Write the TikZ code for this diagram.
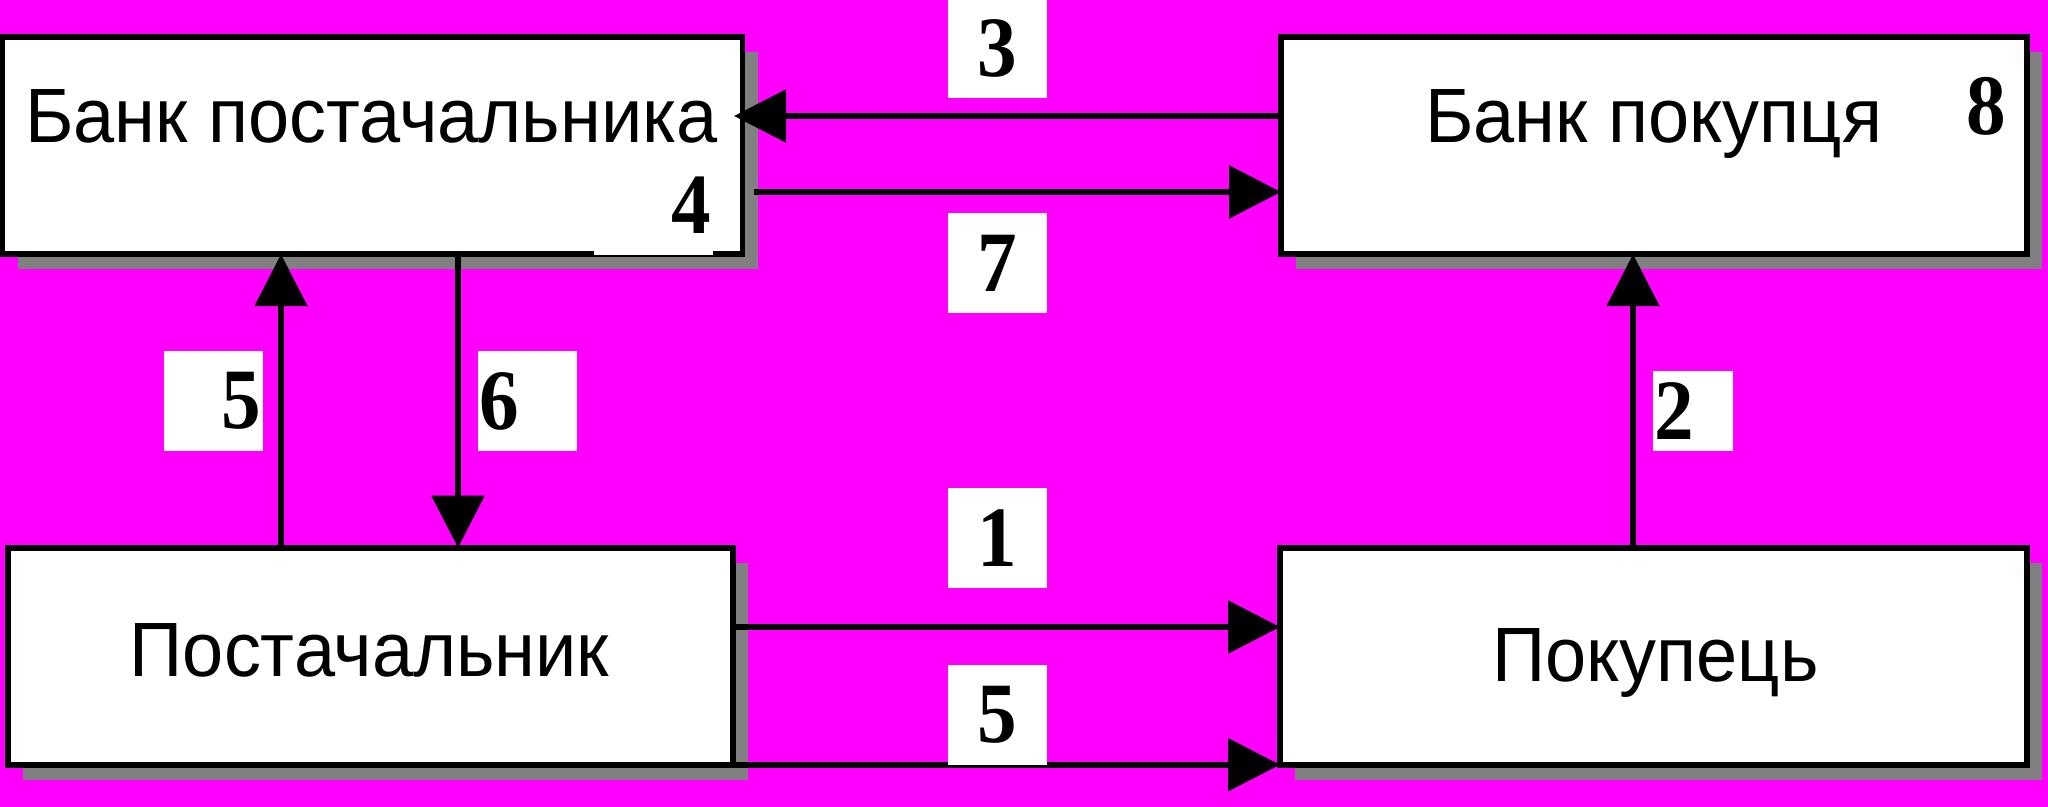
\documentclass[tikz,border=0pt]{standalone}
\usepackage{fontspec}
\usepackage{tikz}
\usetikzlibrary{arrows.meta,calc,shadows}
\newfontfamily\arialf[FakeStretch=0.96]{Liberation Sans}
\newfontfamily\timesf[FakeStretch=0.92]{Liberation Serif}
\definecolor{fon}{HTML}{FF00FF}
\definecolor{ten}{HTML}{808080}

\begin{document}
\begin{tikzpicture}[x=0.5pt,y=0.5pt,line width=2.8pt,>={Triangle[length=26pt,width=26pt]},
  blok/.style={draw=black,fill=white,rectangle,inner sep=0pt,outer sep=0pt,minimum height=108.5pt,
    general shadow={fill=ten,shadow xshift=7.5pt,shadow yshift=-7.5pt}},
  txt/.style={anchor=base,inner sep=0pt,font=\arialf\fontsize{38.5}{40}\selectfont},
  num/.style={fill=white,inner sep=0pt,minimum width=49.5pt,minimum height=50pt,
    font=\timesf\bfseries\fontsize{43}{44}\selectfont}]
\fill[fon] (0,0) rectangle (2048,807);
\useasboundingbox (0,0) rectangle (2048,807);
\node[blok,minimum width=370pt] (bankP) at (372.5,661.25) {};
\node[blok,minimum width=373pt] (bankB) at (1654,661.25) {};
\node[blok,minimum width=362.5pt] (post) at (370.5,150.75) {};
\node[blok,minimum width=373.5pt] (pok) at (1653.5,150.75) {};
\node[txt] (tP) at (371.5,664) {Банк\ постачальника};
\node[txt] (tB) at (1653.5,664) {Банк\ покупця};
\node[txt] (tPost) at (369.5,130) {Постачальник};
\node[txt] (tPok) at (1655.5,125) {Покупець};
\node[num,minimum width=59.5pt,text width=58pt,align=right] (n4) at (653.5,602) {4};
\node[num,minimum width=20pt,minimum height=30pt] (n8) at (1986,700.5) {8};
\coordinate (p5) at ($(post.north)+(-89.5,0)$);
\coordinate (p6) at ($(bankP.south)+(85.5,0)$);
\coordinate (p2) at ($(pok.north)+(-20.5,0)$);
\draw [->] ($(bankB.west)+(0,29.75)$) to ($(bankP.east)+(-8.5,29.75)$);
\draw [->] ($(bankP.east)+(11.5,-46.25)$) to ($(bankB.west)+(0,-46.25)$);
\draw [->] ($(post.east)+(0,29.25)$) to ($(pok.west)+(0,29.25)$);
\draw [->] (post.south east) to (pok.south west);
\draw [->] (p5) to (p5 |- bankP.south);
\draw [->] (p6) to (p6 |- post.north);
\draw [->] (p2) to (p2 |- bankB.south);
\node[num] (n3) at (997.5,759) {3};
\node[num] (n7) at (997.5,543.5) {7};
\node[num] (n1) at (997.5,269) {1};
\node[num] (n5b) at (997.5,92) {5};
\node[num,text width=48pt,align=right] (n5) at (213.5,406) {5};
\node[num,text width=48pt,align=left] (n6) at (527.5,406) {6};
\node[num,minimum width=40pt,minimum height=40pt,text width=39pt,align=left] (n2) at (1693,396) {2};
\end{tikzpicture}
\end{document}
